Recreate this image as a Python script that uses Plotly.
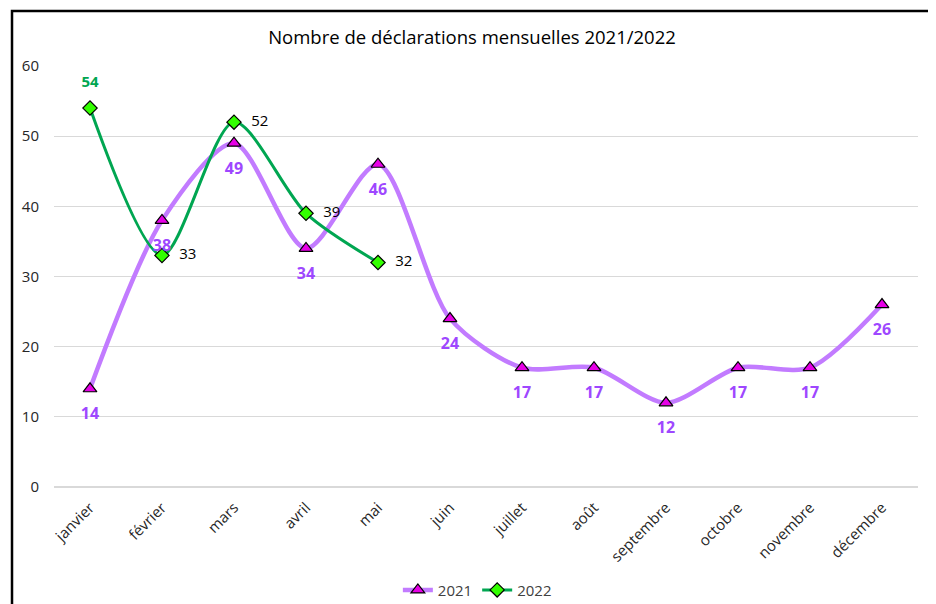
import plotly.graph_objects as go

months = ["janvier", "février", "mars", "avril", "mai", "juin", "juillet",
          "août", "septembre", "octobre", "novembre", "décembre"]
values_2021 = [14, 38, 49, 34, 46, 24, 17, 17, 12, 17, 17, 26]
months_2022 = ["janvier", "février", "mars", "avril", "mai"]
values_2022 = [54, 33, 52, 39, 32]
y_ticks = [0, 10, 20, 30, 40, 50, 60]

purple_line = "#C27BFF"
purple_text = "#9E47FF"
green_line = "#00A651"
FONT = "Open Sans, sans-serif"

fig = go.Figure()

# lines + markers
fig.add_trace(go.Scatter(
    x=months, y=values_2021, name="2021", mode="lines+markers",
    line=dict(color=purple_line, width=4.5, shape="spline", smoothing=0.8),
    marker=dict(symbol="triangle-up", size=12, color="#E600E6",
                line=dict(color="black", width=1.2)),
))
fig.add_trace(go.Scatter(
    x=months_2022, y=values_2022, name="2022", mode="lines+markers",
    line=dict(color=green_line, width=3, shape="spline", smoothing=0.8),
    marker=dict(symbol="diamond", size=11, color="#33FF00",
                line=dict(color="black", width=1.2)),
))

# data labels (invisible larger markers give the label offset)
fig.add_trace(go.Scatter(
    x=months, y=values_2021, mode="markers+text", showlegend=False,
    hoverinfo="skip",
    marker=dict(size=28, color="rgba(0,0,0,0)"),
    text=[f"<b>{v}</b>" for v in values_2021],
    textposition="bottom center",
    textfont=dict(family=FONT, size=16, color=purple_text),
    cliponaxis=False,
))

labels_2022, positions_2022, colors_2022 = [], [], []
for i, v in enumerate(values_2022):
    if i == 0:
        labels_2022.append(f"<b>{v}</b>")
        positions_2022.append("top center")
        colors_2022.append("#00A651")
    else:
        labels_2022.append(f"{v}")
        positions_2022.append("middle right")
        colors_2022.append("black")

fig.add_trace(go.Scatter(
    x=months_2022, y=values_2022, mode="markers+text", showlegend=False,
    hoverinfo="skip",
    marker=dict(size=26, color="rgba(0,0,0,0)"),
    text=labels_2022,
    textposition=positions_2022,
    textfont=dict(family=FONT, size=15, color=colors_2022),
    cliponaxis=False,
))

fig.update_layout(
    width=928, height=596,
    paper_bgcolor="white", plot_bgcolor="white",
    margin=dict(l=46, r=18, t=58, b=117, autoexpand=False),
    title=dict(text="Nombre de déclarations mensuelles 2021/2022",
               x=0.5, xanchor="center", y=0.951, yanchor="middle",
               font=dict(family=FONT, size=18.5, color="black")),
    font=dict(family=FONT, color="#404040"),
    showlegend=True,
    legend=dict(orientation="h", x=0.49, xanchor="center", y=-0.245, yanchor="middle",
                bgcolor="rgba(0,0,0,0)",
                font=dict(size=15, color="#404040"), itemwidth=30),
    xaxis=dict(categoryorder="array", categoryarray=months, range=[-0.5, 11.5],
               tickangle=-45, ticklabelstandoff=8,
               tickfont=dict(size=15, color="#262626"), showgrid=False,
               showline=False, ticks="", automargin=False),
    yaxis=dict(range=[0, 60], tickvals=y_ticks, showgrid=True,
               gridcolor="#D9D9D9", gridwidth=1, zeroline=True,
               zerolinecolor="#D9D9D9", tickfont=dict(size=15, color="#262626"),
               ticks="", ticklabelstandoff=14, automargin=False),
    shapes=[dict(type="rect", xref="paper", yref="paper",
                 x0=-0.0486, x1=1.0174, y0=-0.35, y1=1.1306,
                 line=dict(color="black", width=2.5), fillcolor="rgba(0,0,0,0)")],
)

fig.write_html("out.html")
